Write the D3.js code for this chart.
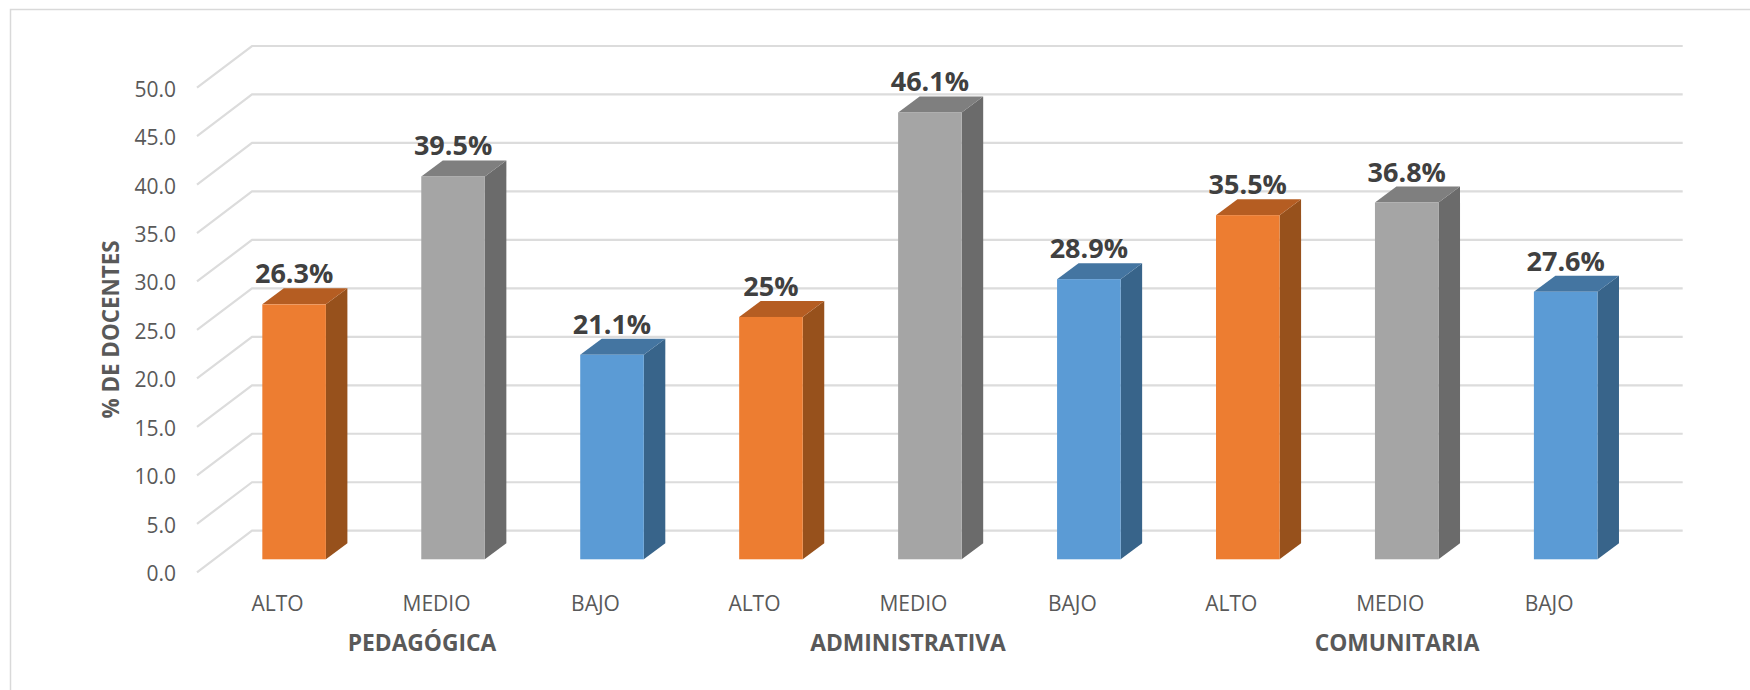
<!DOCTYPE html>
<html><head><meta charset="utf-8">
<script src="https://cdnjs.cloudflare.com/ajax/libs/d3/7.8.5/d3.min.js"></script>
<style>html,body{margin:0;padding:0;background:#fff}svg{display:block}</style></head>
<body><svg id="c" width="1750" height="690"></svg>
<script>
const levels = ["ALTO","MEDIO","BAJO","ALTO","MEDIO","BAJO","ALTO","MEDIO","BAJO"];
const values = [26.3,39.5,21.1,25,46.1,28.9,35.5,36.8,27.6];
const valueLabels = ["26.3%","39.5%","21.1%","25%","46.1%","28.9%","35.5%","36.8%","27.6%"];
const groups = ["PEDAGÓGICA","ADMINISTRATIVA","COMUNITARIA"];
const yTicks = [0,5,10,15,20,25,30,35,40,45,50];
const frontColors = {ALTO:"#ed7d31",MEDIO:"#a5a5a5",BAJO:"#5b9bd5"};
const topColors = {ALTO:"#b55d22",MEDIO:"#7f7f7f",BAJO:"#4475a1"};
const sideColors = {ALTO:"#97511c",MEDIO:"#6b6b6b",BAJO:"#38648a"};
const FONT = "'Open Sans', sans-serif";

const svg = d3.select("#c");
const x = d3.scaleBand().domain(d3.range(9)).range([182.85,1676.95]).paddingInner(0.6).paddingOuter(0.5);
const y = d3.scaleLinear().domain([0,50]).range([559.3,74.6]);
const dx = 21.5, dy = 16;
const gx = 55, gy = 41.6, floorBack = 530.7;
const gridY = d3.scaleLinear().domain([0,50]).range([floorBack,floorBack-484.7]);

svg.append("path").attr("d","M10.5 690V9.5H1750").attr("fill","none").attr("stroke","#d9d9d9").attr("stroke-width",1.5);

const grid = svg.append("g").attr("fill","none").attr("stroke","#dcdcdc").attr("stroke-width",2.2);
yTicks.forEach(t=>{
  const p = d3.path(); const b = gridY(t);
  p.moveTo(197,b+gy); p.lineTo(197+gx,b); p.lineTo(1682.7,b);
  grid.append("path").attr("d",p.toString());
});

svg.append("g").selectAll("text").data(yTicks).join("text")
  .attr("x",176).attr("y",t=>gridY(t)+gy+9).attr("text-anchor","end")
  .attr("font-family",FONT).attr("font-size",21).attr("fill","#595959").text(t=>t.toFixed(1));

const bars = svg.append("g");
values.forEach((v,i)=>{
  const l = levels[i], x0 = x(i), x1 = x0+x.bandwidth(), top = y(v), bot = y(0);
  const g = bars.append("g");
  g.append("path").attr("fill",sideColors[l]).attr("d",`M${x1} ${top}l${dx} ${-dy}V${bot-dy}L${x1} ${bot}Z`);
  g.append("path").attr("fill",topColors[l]).attr("d",`M${x0} ${top}l${dx} ${-dy}H${x1+dx}L${x1} ${top}Z`);
  g.append("rect").attr("x",x0).attr("y",top).attr("width",x.bandwidth()).attr("height",bot-top).attr("fill",frontColors[l]);
  g.append("text").attr("x",x0+x.bandwidth()/2).attr("y",top-21).attr("text-anchor","middle")
   .attr("font-family",FONT).attr("font-weight",700).attr("font-size",27).attr("fill","#404040").text(valueLabels[i]);
  g.append("text").attr("x",x0+x.bandwidth()/2-16.5).attr("y",611).attr("text-anchor","middle")
   .attr("font-family",FONT).attr("font-size",21).attr("fill","#595959").text(l);
});

const groupCx = [422,908,1397];
svg.append("g").selectAll("text").data(groups).join("text")
  .attr("x",(d,i)=>groupCx[i]).attr("y",651).attr("text-anchor","middle")
  .attr("font-family",FONT).attr("font-weight",700).attr("font-size",22.8).attr("fill","#595959").text(d=>d);

svg.append("text").attr("transform","translate(119,329.5) rotate(-90)").attr("text-anchor","middle")
  .attr("font-family",FONT).attr("font-weight",700).attr("font-size",22.4).attr("fill","#595959").text("% DE DOCENTES");
</script></body></html>
